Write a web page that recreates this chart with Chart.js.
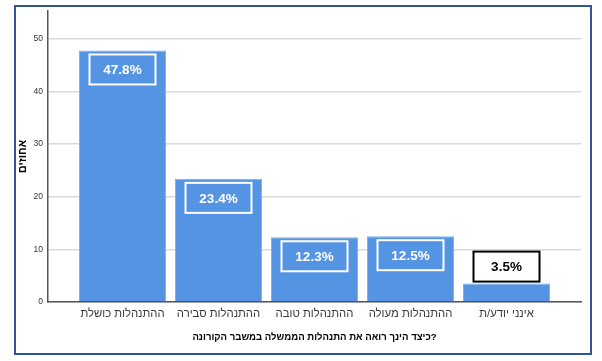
<!DOCTYPE html>
<html><head><meta charset="utf-8">
<script src="https://cdn.jsdelivr.net/npm/chart.js@4"></script>
<style>
html,body{margin:0;padding:0;background:#fff}
#wrap{position:relative;width:602px;height:361px}
canvas{display:block}
#frame{position:absolute;left:14px;top:5px;width:574px;height:346px;border:2px solid #2f5597;pointer-events:none}
</style>
</head><body>
<div id="wrap"><canvas id="c" width="602" height="361"></canvas><div id="frame"></div></div>
<script>
const categories = ['ההתנהלות כושלת', 'ההתנהלות סבירה', 'ההתנהלות טובה', 'ההתנהלות מעולה', 'אינני יודע/ת'];
const categoryPositions = [1, 2, 3, 4, 5];
const percentages = [47.8, 23.4, 12.3, 12.5, 3.5];
const valueLabels = ['47.8%', '23.4%', '12.3%', '12.5%', '3.5%'];
const yTicks = [0, 10, 20, 30, 40, 50];
const yAxisTitle = 'אחוזים';
const xAxisTitle = 'כיצד הינך רואה את התנהלות הממשלה במשבר הקורונה?';

const FONT = "Arial, 'Liberation Sans', 'DejaVu Sans', sans-serif";

const labelBoxes = {
  id: 'labelBoxes',
  afterDatasetsDraw(chart) {
    const ctx = chart.ctx;
    const meta = chart.getDatasetMeta(0);
    const bw = 66, bh = 30;
    meta.data.forEach((bar, i) => {
      const x = bar.x, top = bar.y, base = bar.base;
      const inside = (base - top) > bh + 10;
      let by;
      ctx.save();
      ctx.lineWidth = 2;
      if (inside) {
        by = top + 4;
        ctx.strokeStyle = '#ffffff';
        ctx.strokeRect(x - bw / 2, by, bw, bh);
        ctx.fillStyle = '#ffffff';
      } else {
        by = top - 2 - bh;
        ctx.fillStyle = '#ffffff';
        ctx.fillRect(x - bw / 2, by, bw, bh);
        ctx.strokeStyle = '#000000';
        ctx.strokeRect(x - bw / 2, by, bw, bh);
        ctx.fillStyle = '#000000';
      }
      ctx.font = 'bold 13.5px ' + FONT;
      ctx.textAlign = 'center';
      ctx.textBaseline = 'middle';
      ctx.fillText(valueLabels[i], x, by + bh / 2 + 1);
      ctx.restore();
    });
  }
};

new Chart(document.getElementById('c'), {
  type: 'bar',
  data: {
    datasets: [{
      data: categoryPositions.map((p, i) => ({ x: p, y: percentages[i] })),
      backgroundColor: '#5594e3',
      borderColor: '#7fb0ee',
      borderWidth: 1,
      categoryPercentage: 1,
      barPercentage: 0.906
    }]
  },
  options: {
    responsive: false,
    animation: false,
    devicePixelRatio: 1,
    layout: { padding: { top: 11, right: 21, left: 0, bottom: 0 } },
    plugins: { legend: { display: false }, tooltip: { enabled: false } },
    scales: {
      x: {
        type: 'linear',
        position: 'bottom',
        min: 0.224,
        max: 5.776,
        offset: false,
        grid: { display: false, drawTicks: false, offset: false },
        border: { display: true, color: '#555555', width: 1.5 },
        afterBuildTicks: (axis) => { axis.ticks = categoryPositions.map(v => ({ value: v })); },
        afterFit: (s) => { s.height = 59; },
        ticks: {
          autoSkip: false, maxRotation: 0, padding: 5,
          color: '#3a3a3a',
          font: { family: FONT, size: 11.3 },
          callback: (v) => categories[categoryPositions.indexOf(v)] || ''
        },
        title: {
          display: true, text: xAxisTitle, color: '#000000',
          font: { family: FONT, size: 9.6, weight: 'bold' },
          padding: { top: 0, bottom: 18 }
        }
      },
      y: {
        min: 0,
        max: 55.3,
        afterBuildTicks: (axis) => { axis.ticks = yTicks.map(v => ({ value: v })); },
        afterFit: (s) => { s.width = 48; },
        grid: { color: '#d9d9d9', lineWidth: 1.5, drawTicks: false },
        border: { display: true, color: '#555555', width: 1.5 },
        ticks: {
          padding: 5, color: '#333333',
          font: { family: FONT, size: 8.5 }
        },
        title: {
          display: true, text: yAxisTitle, color: '#000000',
          font: { family: FONT, size: 11, weight: 'bold' },
          padding: { top: 16, bottom: 0 }
        }
      }
    }
  },
  plugins: [labelBoxes]
});
</script>
</body></html>
